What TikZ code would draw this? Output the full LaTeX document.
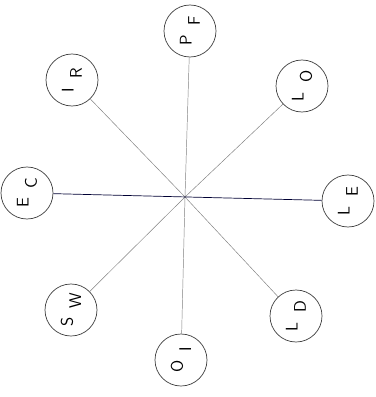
\documentclass[tikz,border=0pt]{standalone}
\newcommand{\lbl}[2]{#1\hspace{0.55em}\raisebox{-1.1ex}{#2}}
\begin{document}
\begin{tikzpicture}[x=0.03cm,y=-0.03cm,every node/.style={font=\sffamily\Large}]
  \useasboundingbox (0,0) rectangle (376,397);
  \tikzset{ring/.style={draw=black!75,semithick,circle,minimum size=1.56cm,inner sep=0pt,rotate=90}}
  \coordinate (hub) at (185,197);
  \node[ring] (pf) at (190,31) {\lbl{P}{F}};
  \node[ring] (lo) at (302,86) {\lbl{L}{O}};
  \node[ring] (le) at (348,201) {\lbl{L}{E}};
  \node[ring] (ld) at (296,316) {\lbl{L}{D}};
  \node[ring] (oi) at (181,360) {\lbl{O}{I}};
  \node[ring] (sw) at (71,310) {\lbl{S}{W}};
  \node[ring] (ec) at (27,193) {\lbl{E}{C}};
  \node[ring] (ir) at (72,80) {\lbl{I}{R}};
  \foreach \n in {pf,lo,ld,oi,sw,ir}
    \draw[black!50,thin] (hub) -- (\n);
  \draw[black!80!blue,semithick] (ec) -- (le);
\end{tikzpicture}
\end{document}
